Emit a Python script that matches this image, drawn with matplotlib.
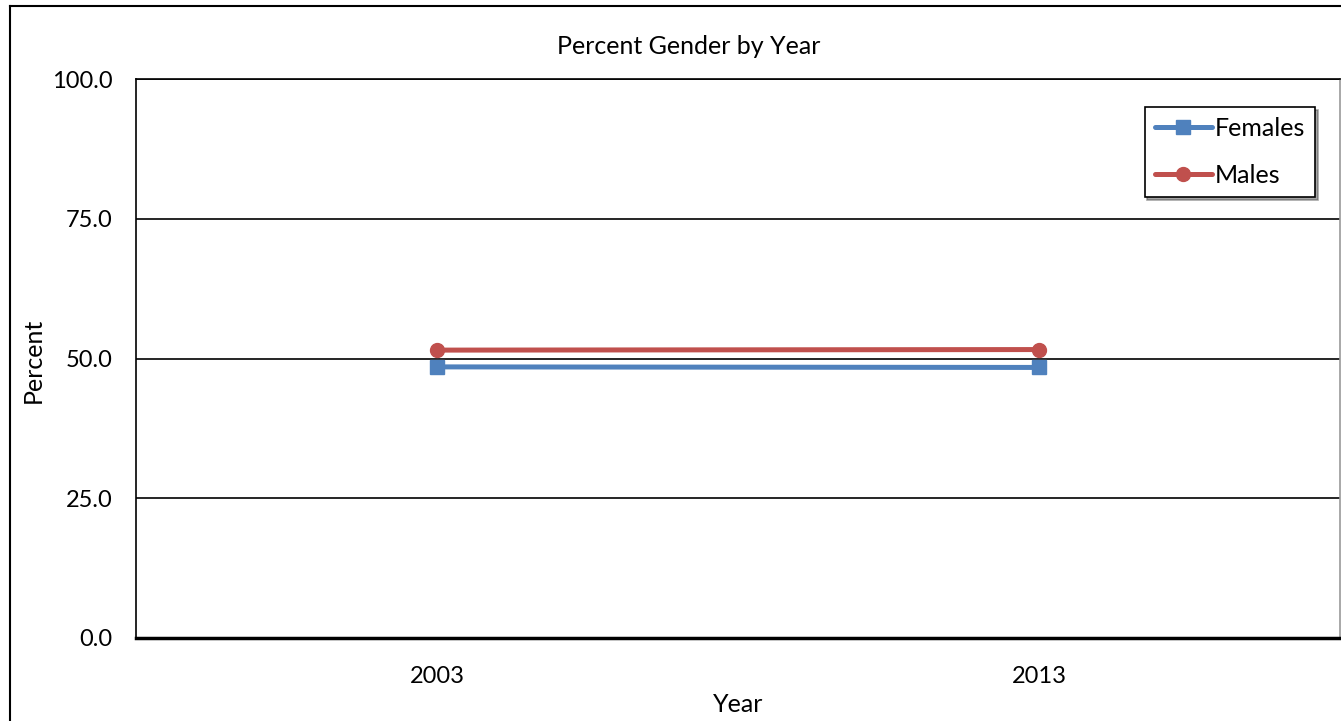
import matplotlib
matplotlib.use("Agg")
import matplotlib.pyplot as plt
from matplotlib.lines import Line2D

years = ["2003", "2013"]
females = [48.5, 48.4]
males = [51.5, 51.6]
yticks = [0, 25, 50, 75, 100]

plt.rcParams['font.family'] = ['Lato', 'DejaVu Sans']

W, H = 1341, 721
fig = plt.figure(figsize=(W / 100, H / 100), dpi=100)
ax_w = 1340 - 136
ax_h = 638 - 79
ax = fig.add_axes([136 / W, (H - 638) / H, ax_w / W, ax_h / H])

x = list(range(len(years)))
ax.plot(x, females, color='#4F81BD', lw=3.6, marker='s', markersize=10, label='Females', solid_capstyle='round')
ax.plot(x, males, color='#C0504D', lw=3.6, marker='o', markersize=10, label='Males', solid_capstyle='round')

ax.set_xlim(-0.5, 1.5)
ax.set_ylim(0, 100)
ax.set_xticks(x)
ax.set_xticklabels(years)
ax.set_yticks(yticks)
ax.set_yticklabels([f"{v:.1f}" for v in yticks])
ax.tick_params(length=0, labelsize=17)
ax.tick_params(axis='y', pad=17)
ax.tick_params(axis='x', pad=20)
ax.grid(axis='y', color='black', lw=1.2)
ax.set_axisbelow(True)
for s in ['left', 'top']:
    ax.spines[s].set_color('black')
    ax.spines[s].set_linewidth(1.2)
ax.spines['bottom'].set_linewidth(2.5)
ax.spines['right'].set_color('#999999')
ax.spines['right'].set_linewidth(1.2)

ax.set_xlabel('Year', fontsize=18)
ax.xaxis.set_label_coords((738 - 136) / ax_w, -(704 - 638) / ax_h)
ax.xaxis.label.set_va('center')
ax.set_ylabel('Percent', fontsize=18)
ax.yaxis.set_label_coords(-(136 - 33) / ax_w, (638 - 360) / ax_h)
ax.yaxis.label.set_va('center')
fig.text(689 / W, 1 - 47 / H, 'Percent Gender by Year', ha='center', va='center', fontsize=18)

leg = ax.legend(loc='upper right', bbox_to_anchor=((1315 - 136) / ax_w, (638 - 107) / ax_h),
                fontsize=18, frameon=True, fancybox=False, shadow=True, handlelength=2.3,
                handletextpad=0.1, labelspacing=0.95, borderpad=0.4, borderaxespad=0)
leg.get_frame().set_edgecolor('black')
leg.get_frame().set_linewidth(1.2)

# outer chart border
fig.add_artist(Line2D([10 / W, 10 / W], [0, 1 - 6 / H], transform=fig.transFigure, color='black', lw=1.5))
fig.add_artist(Line2D([10 / W, 1], [1 - 6 / H, 1 - 6 / H], transform=fig.transFigure, color='black', lw=1.5))

fig.savefig('out.png', dpi=100)
